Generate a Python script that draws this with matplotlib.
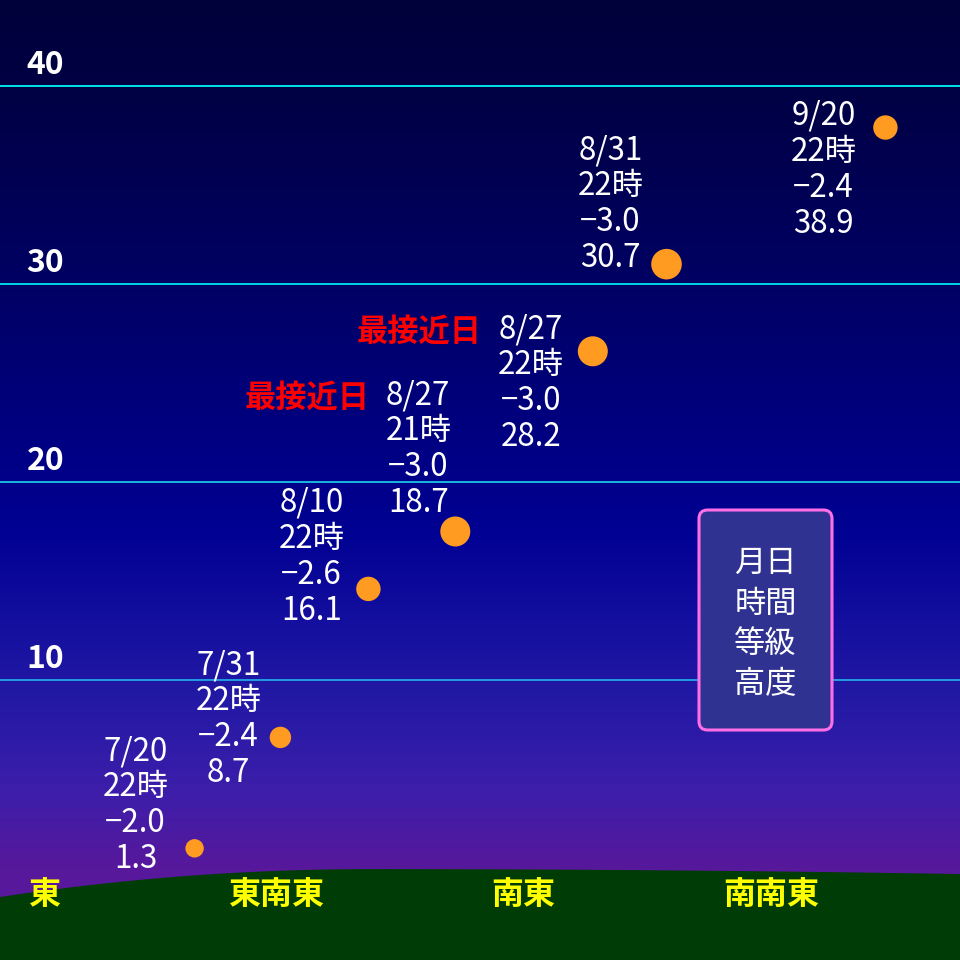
import numpy as np
import matplotlib.pyplot as plt
from matplotlib.patches import FancyBboxPatch

plt.rcParams['font.family'] = ['Noto Sans CJK JP', 'DejaVu Sans']

# Mars, evening positions (azimuth / altitude in degrees)
dates = ['7/20', '7/31', '8/10', '8/27', '8/27', '8/31', '9/20']
hours = ['22時', '22時', '22時', '21時', '22時', '22時', '22時']
mags = [-2.0, -2.4, -2.6, -3.0, -3.0, -3.0, -2.4]
alt_text = [1.3, 8.7, 16.1, 18.7, 28.2, 30.7, 38.9]
azimuth = [105.1, 112.9, 120.9, 128.8, 141.3, 148.0, 167.9]
altitude = [1.5, 7.1, 14.6, 17.5, 26.6, 31.0, 37.9]
closest = [False, False, False, True, True, False, False]

grid_alts = [10, 20, 30, 40]
directions = ['東', '東南東', '南東', '南南東']
dir_az = [90, 112.5, 135, 157.5]
legend_lines = ['月日', '時間', '等級', '高度']

# style / layout
radius_px = [9.2, 10.7, 12.2, 15, 15, 15.3, 12.2]
label_off = [(-59, 45), (-52, 20), (-57, 34), (-37, 84), (-62, -30), (-56, 62), (-62, -40)]
grid_colors = ['#22a8e8', '#1cc4e4', '#00e4f0', '#00f4f4']
line_h = 36

W, H = 960, 960
x0, x1 = 87.41, 174.68
y0, y1 = -4.14, 44.34

fig = plt.figure(figsize=(W / 100, H / 100), dpi=100)
ax = fig.add_axes([0, 0, 1, 1])
ax.set_xlim(x0, x1)
ax.set_ylim(y0, y1)
ax.axis('off')

# sky gradient
stops_y = [0, 90, 285, 480, 540, 620, 700, 790, 870, 960]
stops_c = np.array([(0, 0, 58), (0, 0, 68), (0, 0, 100), (0, 0, 138), (2, 2, 148),
                    (20, 15, 158), (35, 25, 165), (60, 30, 170), (88, 24, 155), (88, 24, 155)]) / 255
rows = np.arange(H)
grad = np.stack([np.interp(rows, stops_y, stops_c[:, i]) for i in range(3)], axis=1)
img = np.repeat(grad[:, None, :], 4, axis=1)
ax.imshow(img, extent=[x0, x1, y0, y1], aspect='auto', origin='upper', zorder=0)

for a, col in zip(grid_alts, grid_colors):
    ax.axhline(a, color=col, lw=1.3, zorder=1)
    ax.annotate(str(a), xy=(0.0474, a), xycoords=('axes fraction', 'data'),
                xytext=(0, 12), textcoords='offset pixels', ha='center', va='baseline',
                color='white', fontsize=23, fontweight='bold', zorder=3)

# hill
az = np.linspace(x0, x1, 400)
peak = 121.05
hill = np.where(az < peak,
                0.45 - 1.41 * ((az - peak) / (peak - x0)) ** 2,
                0.45 - 0.25 * ((az - peak) / (x1 - peak)) ** 2)
ax.fill_between(az, y0, hill, color='#003c06', lw=0, zorder=2)

for d, a in zip(directions, dir_az):
    ax.annotate(d, xy=(a, 0), xytext=(0, -26), textcoords='offset pixels',
                ha='left' if a == 90 else 'center', va='baseline',
                color='#ffff00', fontsize=23, fontweight='bold', zorder=3)

sizes = [(2 * r * 72 / 100) ** 2 for r in radius_px]
ax.scatter(azimuth, altitude, s=sizes, c='#ff9b21', linewidths=0, zorder=5)

for i in range(len(dates)):
    lines = [dates[i], hours[i], f'{mags[i]:.1f}'.replace('-', '\u2212'), f'{alt_text[i]:.1f}']
    dx, dy = label_off[i]
    for k, t in enumerate(lines):
        ax.annotate(t, xy=(azimuth[i], altitude[i]),
                    xytext=(dx, dy + (1.5 - k) * line_h - 11), textcoords='offset pixels',
                    ha='center', va='baseline', color='white', fontsize=22.5, zorder=4)
    if closest[i]:
        ax.annotate('最接近日', xy=(azimuth[i], altitude[i]),
                    xytext=(dx - 49, dy + 1.5 * line_h - 13), textcoords='offset pixels',
                    ha='right', va='baseline', color='#ff0000', fontsize=22.5,
                    fontweight='bold', zorder=4)

# legend box
box = FancyBboxPatch((699 / W, 1 - 730 / H), 133 / W, 220 / H,
                     boxstyle='round,pad=0,rounding_size=0.009',
                     transform=ax.transAxes, facecolor='#2f3290',
                     edgecolor='#ff6ee6', lw=2.2, zorder=6)
ax.add_patch(box)
for k, t in enumerate(legend_lines):
    ax.text(765.5 / W, 1 - (560.3 + 40.2 * k + 12) / H, t, transform=ax.transAxes,
            ha='center', va='baseline', color='white', fontsize=22.5, zorder=7)

fig.savefig('out.png', dpi=100)
